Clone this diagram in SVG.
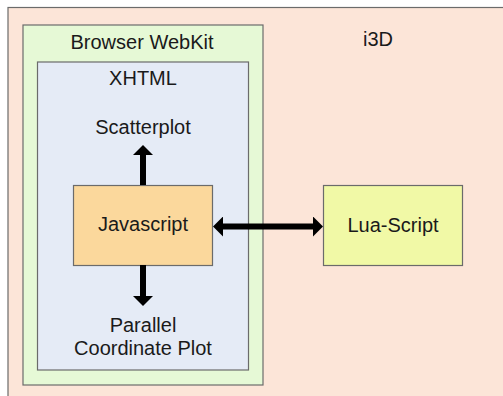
<svg xmlns="http://www.w3.org/2000/svg" width="503" height="396" viewBox="0 0 503 396">
  <style>
    .box { stroke: #6b6b6b; stroke-width: 1.2; }
    .lbl { font-family: "Liberation Sans", Arial, sans-serif; font-size: 20px; fill: #1a1a1a; text-anchor: middle; }
    .conn { stroke: #000; stroke-width: 6; fill: none; }
  </style>
  <defs>
    <marker id="head" viewBox="0 0 10 20" markerWidth="10" markerHeight="20" refX="0" refY="10" markerUnits="userSpaceOnUse" orient="auto-start-reverse">
      <path d="M0,0 L10,10 L0,20 Z" fill="#000"/>
    </marker>
  </defs>

  <rect width="503" height="396" fill="#ffffff"/>

  <g id="i3d">
    <rect class="box" x="8" y="7.5" width="510" height="400" fill="#fce5d8"/>
    <text class="lbl" x="378" y="46">i3D</text>
  </g>

  <g id="webkit">
    <rect class="box" x="23" y="25" width="240" height="360" fill="#e6f9d6"/>
    <text class="lbl" x="142" y="49">Browser WebKit</text>
  </g>

  <g id="xhtml">
    <rect class="box" x="37.5" y="62" width="211" height="308" fill="#e5ebf6"/>
    <text class="lbl" x="143" y="85">XHTML</text>
  </g>

  <g id="scatterplot">
    <text class="lbl" x="143" y="134">Scatterplot</text>
  </g>

  <g id="javascript">
    <rect class="box" x="73.5" y="185.5" width="139" height="80" fill="#fbd89c"/>
    <text class="lbl" x="143" y="231">Javascript</text>
  </g>

  <g id="parallel">
    <text class="lbl" x="143" y="332">Parallel</text>
    <text class="lbl" x="143" y="355">Coordinate Plot</text>
  </g>

  <g id="lua">
    <rect class="box" x="323.5" y="185.5" width="139" height="80" fill="#f1f9a6"/>
    <text class="lbl" x="393" y="232">Lua-Script</text>
  </g>

  <g id="connectors">
    <line class="conn" x1="143" y1="185" x2="143" y2="155" marker-end="url(#head)"/>
    <line class="conn" x1="143" y1="265" x2="143" y2="296" marker-end="url(#head)"/>
    <line class="conn" x1="223" y1="226.5" x2="313" y2="226.5" marker-start="url(#head)" marker-end="url(#head)"/>
  </g>
</svg>
